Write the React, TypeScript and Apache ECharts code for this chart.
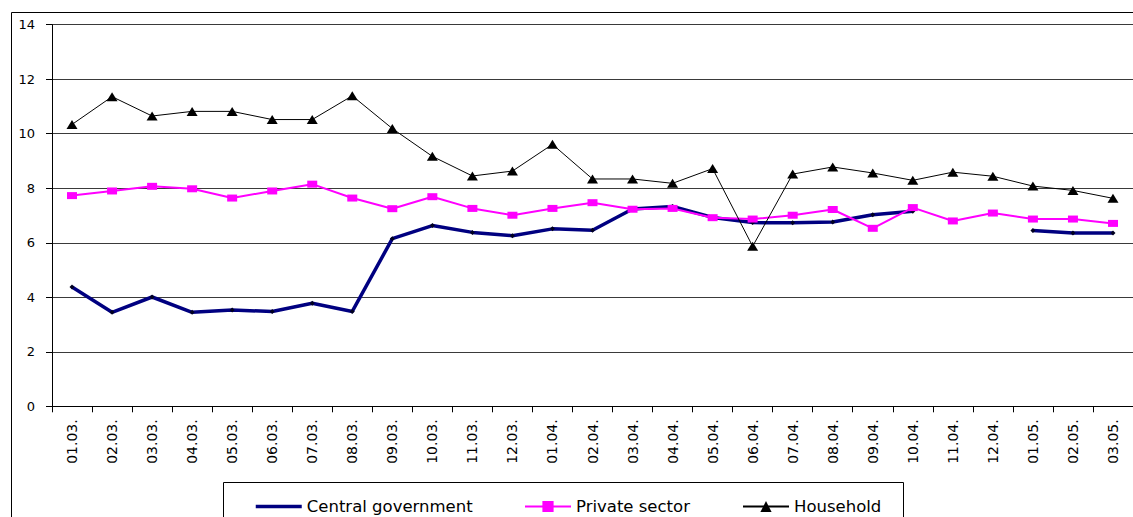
import React, { useEffect, useRef } from "react";
import * as echarts from "echarts";

const categories = [
  "01.03.", "02.03.", "03.03.", "04.03.", "05.03.", "06.03.", "07.03.", "08.03.", "09.03.", "10.03.", "11.03.", "12.03.",
  "01.04.", "02.04.", "03.04.", "04.04.", "05.04.", "06.04.", "07.04.", "08.04.", "09.04.", "10.04.", "11.04.", "12.04.",
  "01.05.", "02.05.", "03.05.",
];

const centralGovernment: (number | null)[] = [
  4.38, 3.45, 4.01, 3.45, 3.53, 3.48, 3.78, 3.48, 6.15, 6.63, 6.38, 6.26,
  6.51, 6.46, 7.24, 7.33, 6.93, 6.74, 6.73, 6.76, 7.03, 7.16, null, null,
  6.45, 6.36, 6.36,
];

const privateSector = [
  7.73, 7.9, 8.07, 7.98, 7.64, 7.9, 8.15, 7.64, 7.25, 7.69, 7.26, 7.01,
  7.26, 7.47, 7.23, 7.26, 6.92, 6.87, 7.01, 7.22, 6.53, 7.29, 6.8, 7.09,
  6.87, 6.87, 6.71,
];

const household = [
  10.34, 11.36, 10.65, 10.82, 10.82, 10.52, 10.52, 11.39, 10.19, 9.17, 8.45, 8.63,
  9.61, 8.34, 8.34, 8.18, 8.72, 5.87, 8.52, 8.78, 8.56, 8.29, 8.59, 8.44,
  8.08, 7.92, 7.63,
];

const yTicks = { min: 0, max: 14, interval: 2 };

const FONT = "DejaVu Sans";

export default function App() {
  const ref = useRef<HTMLDivElement>(null);
  useEffect(() => {
    if (!ref.current) return;
    const chart = echarts.init(ref.current, null, { renderer: "svg" });
    const legendBase = {
      top: 493,
      itemWidth: 46,
      itemHeight: 14,
      itemGap: 46,
      textStyle: { fontFamily: FONT, fontSize: 16.5, color: "#000" },
    };
    chart.setOption({
      animation: false,
      backgroundColor: "#fff",
      grid: { left: 52, top: 24.7, width: 1094.3, height: 381.6, containLabel: false },
      graphic: [
        {
          type: "rect",
          shape: { x: 11.5, y: 12.5, width: 1200, height: 600 },
          style: { fill: "none", stroke: "#000", lineWidth: 1 },
          silent: true,
          z: -10,
        },
        {
          type: "rect",
          shape: { x: 223.5, y: 482.5, width: 680, height: 60 },
          style: { fill: "#fff", stroke: "#000", lineWidth: 1 },
          silent: true,
          z: -5,
        },
      ],
      legend: [
        {
          ...legendBase,
          left: 249,
          data: [
            {
              name: "Central government",
              itemStyle: { color: "rgba(0,0,0,0)", borderWidth: 0 },
              lineStyle: { color: "#000080", width: 3.5 },
            },
          ],
        },
        { ...legendBase, left: 519, data: ["Private sector"] },
        { ...legendBase, left: 737, data: ["Household"] },
      ],
      xAxis: {
        type: "category",
        data: categories,
        boundaryGap: true,
        axisLine: { show: true, lineStyle: { color: "#000", width: 1 } },
        axisTick: { show: true, alignWithLabel: false, length: 6, lineStyle: { color: "#000" } },
        axisLabel: {
          rotate: 90,
          interval: 0,
          margin: 13,
          fontFamily: FONT,
          fontSize: 14,
          color: "#000",
        },
        splitLine: { show: false },
      },
      yAxis: {
        type: "value",
        min: yTicks.min,
        max: yTicks.max,
        interval: yTicks.interval,
        axisLine: { show: true, lineStyle: { color: "#000", width: 1 } },
        axisTick: { show: true, length: 6, lineStyle: { color: "#000" } },
        axisLabel: { fontFamily: FONT, fontSize: 13, color: "#000", margin: 17 },
        splitLine: { show: true, lineStyle: { color: "#3a3a3a", width: 1 } },
      },
      series: [
        {
          name: "Central government",
          type: "line",
          data: centralGovernment,
          connectNulls: false,
          symbol: "diamond",
          symbolSize: 5,
          showSymbol: true,
          itemStyle: { color: "#000020" },
          lineStyle: { color: "#000080", width: 3.5 },
          z: 2,
        },
        {
          name: "Private sector",
          type: "line",
          data: privateSector,
          symbol: "rect",
          symbolSize: [10, 7],
          itemStyle: { color: "#ff00ff" },
          lineStyle: { color: "#ff00ff", width: 2 },
          z: 3,
        },
        {
          name: "Household",
          type: "line",
          data: household,
          symbol: "triangle",
          symbolSize: [11, 9],
          itemStyle: { color: "#000" },
          lineStyle: { color: "#000", width: 1 },
          z: 4,
        },
      ],
    });
    return () => chart.dispose();
  }, []);
  return (
    <div
      ref={ref}
      style={{ position: "fixed", left: 0, top: 0, width: 1133, height: 517, background: "#fff" }}
    />
  );
}
